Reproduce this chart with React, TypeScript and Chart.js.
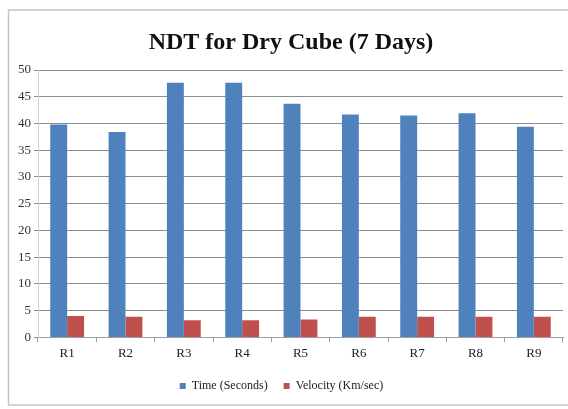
import React, { useEffect, useRef } from "react";
import { Chart, registerables } from "chart.js";

Chart.register(...registerables);

const categories = ["R1", "R2", "R3", "R4", "R5", "R6", "R7", "R8", "R9"];
const timeSeconds = [39.8, 38.4, 47.6, 47.6, 43.7, 41.7, 41.5, 41.9, 39.4];
const velocityKmSec = [4.0, 3.85, 3.2, 3.2, 3.35, 3.85, 3.85, 3.85, 3.85];
const yTicks = [0, 5, 10, 15, 20, 25, 30, 35, 40, 45, 50];
const titleText = "NDT for Dry Cube (7 Days)";
const seriesNames = ["Time (Seconds)", "Velocity (Km/sec)"];

const FONT = "'Liberation Serif', 'Times New Roman', serif";

const framePlugin = {
  id: "frame",
  beforeDraw(chart: any) {
    const ctx = chart.ctx;
    ctx.save();
    ctx.fillStyle = "#ffffff";
    ctx.fillRect(0, 0, chart.width, chart.height);
    ctx.strokeStyle = "#c4c4c4";
    ctx.lineWidth = 1.5;
    ctx.strokeRect(8.5, 10, chart.width + 10, 395);
    ctx.restore();
  },
  afterDraw(chart: any) {
    const ctx = chart.ctx;
    ctx.save();
    ctx.fillStyle = "#111111";
    ctx.font = `bold 24px ${FONT}`;
    ctx.textAlign = "center";
    ctx.textBaseline = "middle";
    ctx.fillText(titleText, 291, 43);
    ctx.restore();
  },
};

export default function App() {
  const ref = useRef<HTMLCanvasElement>(null);
  useEffect(() => {
    if (!ref.current) return;
    const chart = new Chart(ref.current, {
      type: "bar",
      data: {
        labels: categories,
        datasets: [
          {
            label: seriesNames[0],
            data: timeSeconds,
            backgroundColor: "#4F81BD",
            categoryPercentage: 0.58,
            barPercentage: 1.0,
          },
          {
            label: seriesNames[1],
            data: velocityKmSec,
            backgroundColor: "#C0504D",
            categoryPercentage: 0.58,
            barPercentage: 1.0,
          },
        ],
      },
      options: {
        animation: false,
        responsive: false,
        devicePixelRatio: 1,
        layout: { padding: { left: 0, right: 5, top: 70, bottom: 7 } },
        plugins: {
          title: { display: false },
          tooltip: { enabled: false },
          legend: {
            position: "bottom",
            labels: {
              boxWidth: 6,
              boxHeight: 6,
              padding: 16,
              color: "#222",
              font: { family: FONT, size: 12 },
            },
          },
        },
        scales: {
          x: {
            grid: {
              display: true,
              drawOnChartArea: false,
              drawTicks: true,
              tickLength: 5,
              color: "#a0a0a0",
              offset: true,
            },
            border: { color: "#a0a0a0", width: 1 },
            ticks: {
              color: "#222",
              padding: 3,
              font: { family: FONT, size: 13 },
            },
          },
          y: {
            min: 0,
            max: 50,
            afterBuildTicks: (scale: any) => {
              scale.ticks = yTicks.map((v) => ({ value: v }));
            },
            afterFit: (scale: any) => {
              scale.width = 38;
            },
            grid: {
              color: "#8c8c8c",
              lineWidth: 1,
              tickLength: 4,
            },
            border: { color: "#d0d0d0", width: 1 },
            ticks: {
              color: "#333",
              padding: 3,
              font: { family: FONT, size: 13 },
            },
          },
        },
      },
      plugins: [framePlugin],
    });
    return () => chart.destroy();
  }, []);
  return (
    <div style={{ position: "absolute", left: 0, top: 0, width: 568, height: 409, background: "#fff" }}>
      <canvas ref={ref} width={568} height={409} style={{ display: "block", width: 568, height: 409 }} />
    </div>
  );
}
